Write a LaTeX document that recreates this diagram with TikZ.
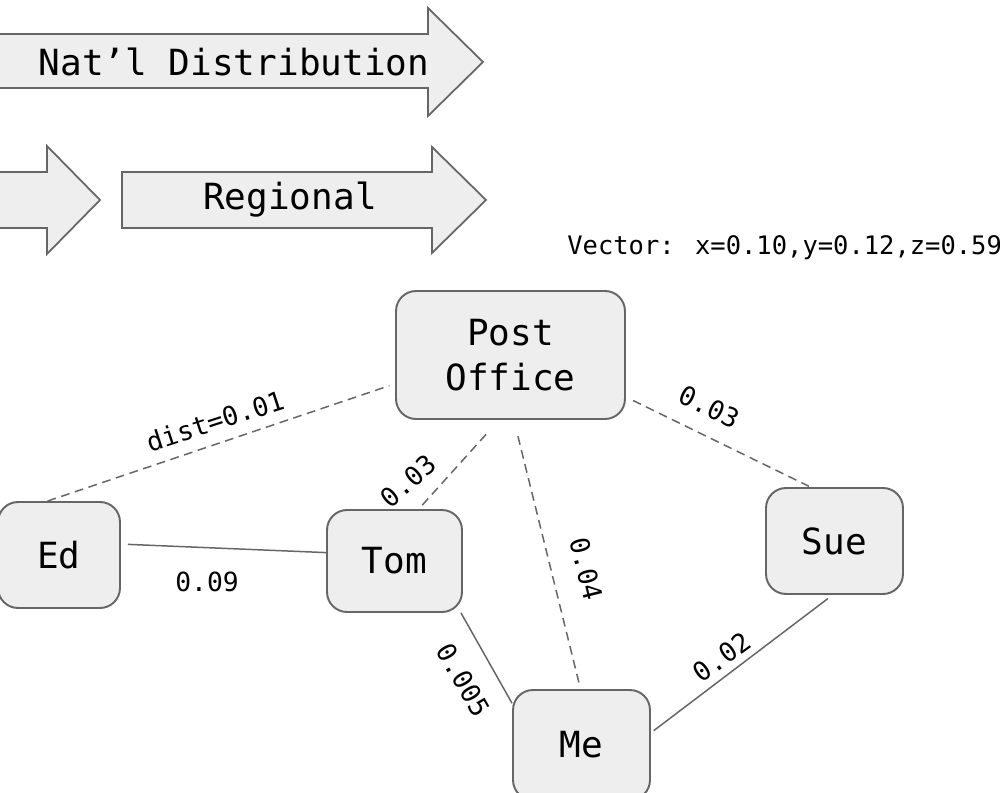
\documentclass[tikz,border=0pt]{standalone}
\usepackage{fontspec}
\newfontfamily\mono{DejaVu Sans Mono}
\definecolor{boxfill}{HTML}{EEEEEE}
\definecolor{edgegray}{HTML}{666666}
\tikzset{
  person/.style={draw=edgegray, line width=1.1pt, fill=boxfill, rounded corners=0.4cm,
    inner sep=0pt, font=\mono\fontsize{20.5pt}{25.5pt}\selectfont, align=center},
  band/.style={draw=edgegray, line width=1pt, fill=boxfill},
  bandtext/.style={font=\mono\fontsize{20.5pt}{25pt}\selectfont},
  link/.style={draw=edgegray, line width=0.85pt},
  farlink/.style={link, dash pattern=on 5pt off 3.2pt},
  wt/.style={font=\mono\fontsize{15pt}{18pt}\selectfont, inner sep=0pt}
}
\begin{document}
\begin{tikzpicture}[x=0.02cm, y=-0.02cm]
\useasboundingbox (0,0) rectangle (1000,793);
\clip (0,0) rectangle (1000,793);

% distribution bands
\draw[band] (-10,34) -- (428,34) -- (428,8) -- (483,62) -- (428,116) -- (428,88) -- (-10,88) -- cycle;
\node[bandtext] (natl) at (234,62) {Nat’l Distribution};
\draw[band] (-10,172) -- (47,172) -- (47,146) -- (100,200) -- (47,254) -- (47,228) -- (-10,228) -- cycle;
\draw[band] (122,172) -- (432,172) -- (432,147) -- (486,200) -- (432,253) -- (432,228) -- (122,228) -- cycle;
\node[bandtext] (regional) at (290,200) {Regional};

\node[wt, anchor=west, font=\mono\fontsize{14.5pt}{18pt}\selectfont] (vec) at (567,248) {Vector: x=0.10,y=0.12,z=0.59};

% places and people
\node[person, minimum width=4.58cm, minimum height=2.56cm] (po) at (510.5,355) {Post\\Office};
\node[person, minimum width=2.44cm, minimum height=2.12cm] (ed) at (59,555) {Ed};
\node[person, minimum width=2.70cm, minimum height=2.04cm] (tom) at (394.5,561) {Tom};
\node[person, minimum width=2.74cm, minimum height=2.20cm] (me) at (581.5,745) {Me};
\node[person, minimum width=2.74cm, minimum height=2.12cm] (sue) at (834.5,541) {Sue};

% connections
\draw[farlink, shorten >=3.4pt] (ed.102) -- (po.194);
\draw[link, shorten <=4pt] (ed.10.8) -- (tom.173.8);
\draw[farlink, shorten <=3pt, shorten >=10pt] (tom.65.5) -- (po.260.6);
\draw[farlink, shorten <=9.5pt, shorten >=1pt] (po.273.9) -- (me.91.5);
\draw[farlink, shorten <=4.5pt, shorten >=1pt] (po.-20.2) -- (sue.114);
\draw[link] (tom.-38.4) -- (me.149.7);
\draw[link, shorten <=2pt, shorten >=3.4pt] (me.10.2) -- (sue.268.5);

% weights
\node[wt, rotate=18] (w1) at (215,421) {dist=0.01};
\node[wt] (w2) at (207,582) {0.09};
\node[wt, rotate=41] (w3) at (408,481) {0.03};
\node[wt, rotate=-76] (w4) at (586,569) {0.04};
\node[wt, rotate=-26] (w5) at (709,407) {0.03};
\node[wt, rotate=-60] (w6) at (463,680) {0.005};
\node[wt, rotate=36] (w7) at (722,657) {0.02};
\end{tikzpicture}
\end{document}
